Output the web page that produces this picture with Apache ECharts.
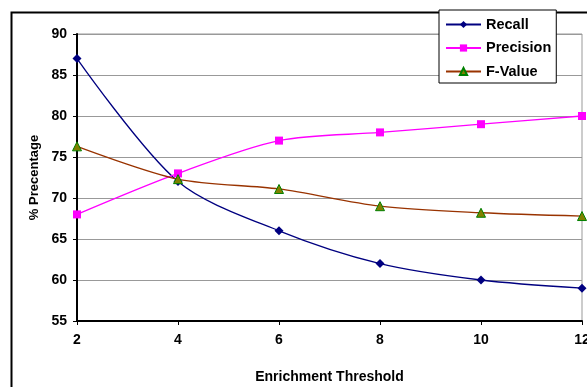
<!DOCTYPE html>
<html><head><meta charset="utf-8">
<script src="https://cdn.jsdelivr.net/npm/echarts@6/dist/echarts.min.js"></script>
<style>html,body{margin:0;padding:0;background:#fff;overflow:hidden}#c{width:587px;height:387px}</style>
</head><body><div id="c"></div>
<script>
var thresholds = [2, 4, 6, 8, 10, 12];
var recall = [87, 72, 66, 62, 60, 59];
var precision = [68, 73, 77, 78, 79, 80];
var fValue = [76.3, 72.3, 71.1, 69, 68.2, 67.8];

function pairs(v){ return thresholds.map(function(x,i){ return [x, v[i]]; }); }

var chart = echarts.init(document.getElementById('c'));
var font = 'Liberation Sans, Arial, sans-serif';
chart.setOption({
  animation: false,
  backgroundColor: '#fff',
  graphic: [{
    type: 'rect', left: 9, top: 10, z: -1,
    shape: {width: 620, height: 420},
    style: {fill: 'none', stroke: '#000', lineWidth: 2}
  }],
  grid: {left: 77, right: 5, top: 34, bottom: 66, show: true, borderColor: '#999', borderWidth: 1,
         containLabel: false, outerBoundsMode: 'none'},
  legend: {
    orient: 'vertical', left: 439, top: 10,
    backgroundColor: '#fff', borderColor: '#000', borderWidth: 1,
    padding: [7, 5, 4, 6], itemGap: 8.5, itemWidth: 35, itemHeight: 9,
    textStyle: {fontFamily: font, fontWeight: 'bold', fontSize: 14.5, color: '#000'},
    data: ['Recall', 'Precision', 'F-Value']
  },
  xAxis: {
    type: 'value', min: 2, max: 12, interval: 2,
    name: 'Enrichment Threshold', nameLocation: 'middle', nameGap: 49,
    nameTextStyle: {fontFamily: font, fontWeight: 'bold', fontSize: 14, color: '#000'},
    axisLine: {lineStyle: {color: '#000', width: 2}},
    axisTick: {show: true, length: 4, lineStyle: {color: '#000'}},
    axisLabel: {fontFamily: font, fontWeight: 'bold', fontSize: 14, color: '#000', margin: 12},
    splitLine: {show: false}
  },
  yAxis: {
    type: 'value', min: 55, max: 90, interval: 5,
    name: '% Precentage', nameLocation: 'middle', nameGap: 31,
    nameTextStyle: {fontFamily: font, fontWeight: 'bold', fontSize: 13, color: '#000'},
    axisLine: {show: true, lineStyle: {color: '#000', width: 2}},
    axisTick: {show: true, length: 4, lineStyle: {color: '#000'}},
    axisLabel: {fontFamily: font, fontWeight: 'bold', fontSize: 14, color: '#000', margin: 10},
    splitLine: {show: true, lineStyle: {color: '#999', width: 1}}
  },
  series: [
    {name: 'Recall', type: 'line', data: pairs(recall), smooth: 0.3,
     symbol: 'diamond', symbolSize: 9,
     lineStyle: {color: '#000080', width: 1.3}, itemStyle: {color: '#000080'}},
    {name: 'Precision', type: 'line', data: pairs(precision), smooth: 0.3,
     symbol: 'rect', symbolSize: 8,
     lineStyle: {color: '#ff00ff', width: 1.3}, itemStyle: {color: '#ff00ff'}},
    {name: 'F-Value', type: 'line', data: pairs(fValue), smooth: 0.3,
     symbol: 'triangle', symbolSize: 9,
     lineStyle: {color: '#993300', width: 1.3}, itemStyle: {color: '#808000', borderColor: '#008000', borderWidth: 1}}
  ]
});
</script></body></html>
